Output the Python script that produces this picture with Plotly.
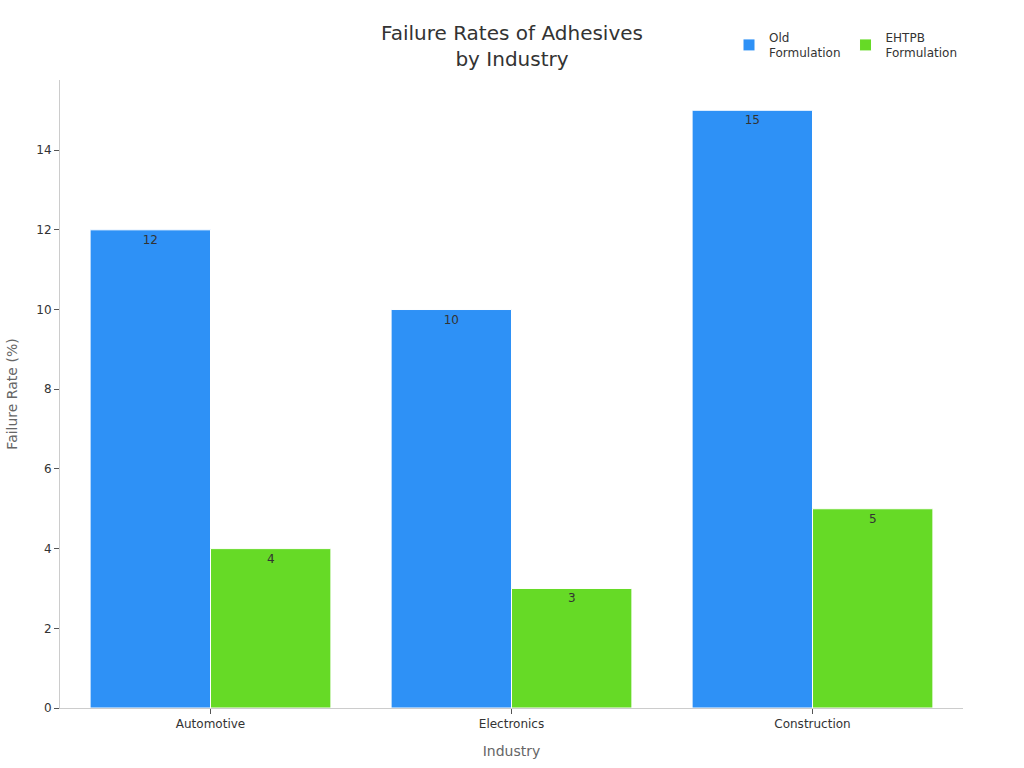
import plotly.graph_objects as go

categories = ["Automotive", "Electronics", "Construction"]
old_values = [12, 10, 15]
ehtpb_values = [4, 3, 5]
series_names = ["Old<br>Formulation", "EHTPB<br>Formulation"]
colors = ["#2E91F6", "#66DA26"]

fig = go.Figure()
for name, vals, col in zip(series_names, [old_values, ehtpb_values], colors):
    fig.add_trace(go.Bar(
        x=categories, y=vals, name=name,
        marker=dict(color=col, line=dict(color="white", width=1)),
        text=vals, textposition="inside", insidetextanchor="end",
        textfont=dict(color="#333333", size=12),
        hoverinfo="skip",
    ))

fig.update_layout(
    width=1024, height=768,
    template="none",
    font=dict(family="DejaVu Sans", size=12, color="#333333"),
    title=dict(text="Failure Rates of Adhesives<br>by Industry", x=0.5, xanchor="center",
               y=0.948, yanchor="middle", font=dict(size=20, color="#333333")),
    barmode="group", bargap=0.2, bargroupgap=0,
    margin=dict(l=60, r=61, t=80, b=60, autoexpand=False),
    plot_bgcolor="white", paper_bgcolor="white",
    legend=dict(orientation="h", x=1.0, xanchor="right", yref="container", y=0.941,
                yanchor="middle", font=dict(size=12, color="#333333")),
    xaxis=dict(title=dict(text="Industry", font=dict(size=14, color="#666666"), standoff=15),
               showline=True, linecolor="#cccccc", ticks="outside", tickcolor="#555555",
               ticklen=5, showgrid=False, tickfont=dict(size=12)),
    yaxis=dict(title=dict(text="Failure Rate (%)", font=dict(size=14, color="#666666"), standoff=15),
               range=[0, 15.76], dtick=2, showline=True, linecolor="#cccccc",
               ticks="outside", tickcolor="#555555", ticklen=5, showgrid=False,
               zeroline=False, tickfont=dict(size=12)),
    uniformtext=dict(minsize=8),
)

fig.write_html("out.html")
